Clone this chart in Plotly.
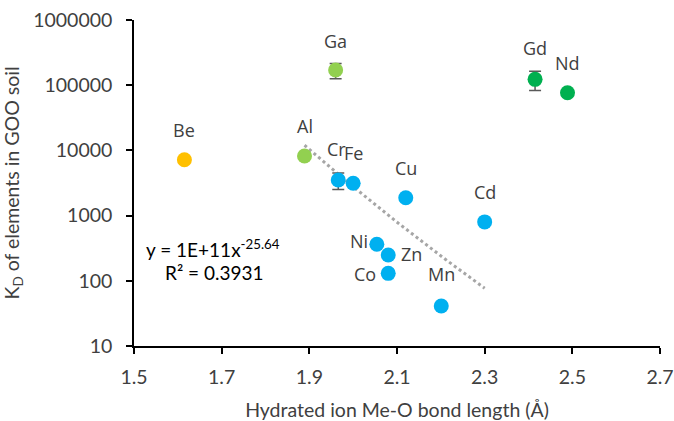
import numpy as np
import plotly.graph_objects as go

# Hydrated ion Me-O bond length (Å) and partition coefficient K_D in GOO soil
elements = ["Be", "Al", "Ga", "Cr", "Fe", "Cu", "Cd", "Ni", "Zn", "Co", "Mn", "Gd", "Nd"]
bond_length = [1.615, 1.889, 1.960, 1.966, 2.000, 2.120, 2.300, 2.054, 2.080, 2.080, 2.201, 2.415, 2.489]
kd_values = [7200, 8200, 171000, 3520, 3130, 1880, 800, 363, 249, 130, 41, 123000, 76700]
kd_errors = [0, 0, 45000, 1000, 0, 0, 0, 0, 0, 0, 0, 40000, 0]
groups = ["be", "light", "light", "blue", "blue", "blue", "blue", "blue", "blue", "blue", "blue", "green", "green"]

# power-law trendline y = a * x^b (a shown rounded as 1E+11)
trend_coef = 1.45e11
trend_exponent = -25.64
trend_x_range = [1.889, 2.300]

colors = {"be": "#FFC000", "light": "#92D050", "blue": "#00B0F0", "green": "#00B050"}

# label offsets in pixels (dx, dy, anchor)
label_offsets = {
    "Be": (0, 30, "center"), "Al": (0, 30, "center"), "Ga": (0, 29, "center"),
    "Cr": (-2, 31, "center"), "Fe": (0, 30, "center"), "Cu": (0, 30, "center"),
    "Cd": (0, 30, "center"), "Gd": (0, 31, "center"), "Nd": (0, 30, "center"),
    "Mn": (0, 32, "center"), "Ni": (-7, 3, "right"), "Zn": (11, 1, "left"),
    "Co": (-10, -1, "right"),
}

fig = go.Figure()

xs = np.linspace(trend_x_range[0], trend_x_range[1], 60)
fig.add_trace(go.Scatter(
    x=xs, y=trend_coef * xs ** trend_exponent, mode="lines",
    line=dict(color="#A6A6A6", width=3, dash="dot"),
    hoverinfo="skip", showlegend=False,
))

for g in ["be", "light", "blue", "green"]:
    sel = [i for i, gg in enumerate(groups) if gg == g]
    fig.add_trace(go.Scatter(
        x=[bond_length[i] for i in sel],
        y=[kd_values[i] for i in sel],
        mode="markers",
        marker=dict(size=15, color=colors[g], line=dict(width=0)),
        error_y=dict(type="data", array=[kd_errors[i] for i in sel],
                     color="#595959", thickness=1.5, width=6),
        text=[elements[i] for i in sel],
        showlegend=False,
    ))

for e, x, y in zip(elements, bond_length, kd_values):
    dx, dy, anchor = label_offsets[e]
    fig.add_annotation(
        x=x, y=np.log10(y), text=e, showarrow=False,
        xanchor=anchor, yanchor="middle", xshift=dx, yshift=dy,
        font=dict(family="Open Sans", size=18, color="#404040"),
    )

eq_font = dict(family="Lato", size=19, color="#000000")
fig.add_annotation(
    x=213, y=248, xref="paper", yref="paper", text="y = 1E+11x<sup>-25.64</sup>",
    showarrow=False, xanchor="center", yanchor="middle", font=eq_font,
)
fig.add_annotation(
    x=214, y=272, xref="paper", yref="paper", text="R² = 0.3931",
    showarrow=False, xanchor="center", yanchor="middle", font=eq_font,
)
# convert pixel positions of the equation block to paper coordinates
plot_l, plot_r, plot_t, plot_b = 134, 660, 20, 346
for ann in fig.layout.annotations[-2:]:
    ann.x = (ann.x - plot_l) / (plot_r - plot_l)
    ann.y = (plot_b - ann.y) / (plot_b - plot_t)

axis_font = dict(family="Lato", size=19.5, color="#404040")
fig.update_xaxes(
    range=[1.5, 2.7], dtick=0.2, tick0=1.5, tickformat=".1f",
    showline=True, linecolor="#000000", linewidth=1.5,
    ticks="outside", ticklen=6, tickcolor="#000000", tickwidth=1.5,
    ticklabelstandoff=7, automargin=False,
    showgrid=False, zeroline=False, tickfont=axis_font,
    title=dict(text="Hydrated ion Me-O bond length (Å)", font=axis_font, standoff=18),
)
fig.update_yaxes(
    type="log", range=[1, 6], dtick=1, tickformat="d",
    showline=True, linecolor="#000000", linewidth=1.5,
    ticks="outside", ticklen=6, tickcolor="#000000", tickwidth=1.5,
    ticklabelstandoff=10, automargin=False,
    showgrid=False, zeroline=False, tickfont=axis_font,
    title=dict(text="K<sub>D</sub> of elements in GOO soil", font=axis_font, standoff=9),
)

fig.update_layout(
    width=674, height=421,
    margin=dict(l=134, r=14, t=20, b=75),
    plot_bgcolor="white", paper_bgcolor="white",
)

fig.write_html("out.html")
